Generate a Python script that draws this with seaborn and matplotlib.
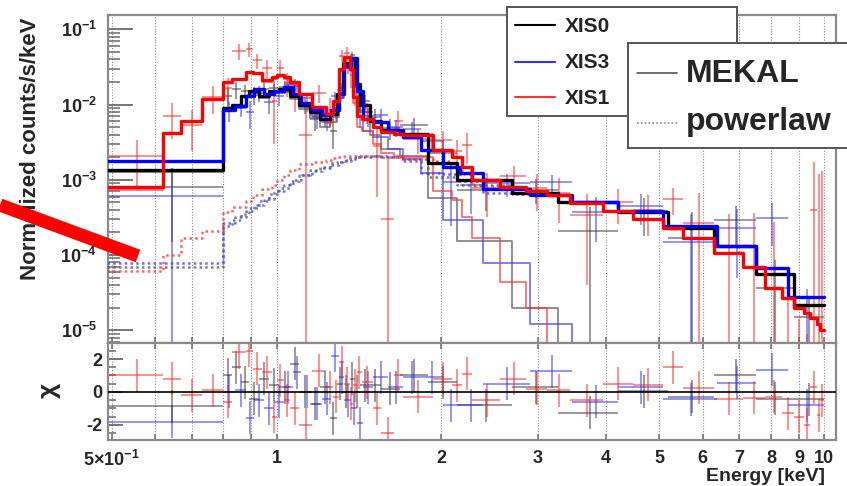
import numpy as np
import pandas as pd
import matplotlib
matplotlib.use("Agg")
import matplotlib.pyplot as plt
from matplotlib.patches import Rectangle
from matplotlib.ticker import FixedLocator, NullFormatter, NullLocator, LogLocator, MultipleLocator
import seaborn as sns

# ---------------------------------------------------------------- data
# XIS0: channel edges [keV], total model, MEKAL and power-law components,
# measured flux, its 1-sigma error, and the residuals (chi)
xis0_edges = [0.49, 0.80, 0.83, 0.86, 0.89, 0.93, 0.97, 1.01, 1.06, 1.10, 1.15, 1.20, 1.25,
              1.29, 1.32, 1.36, 1.39, 1.42, 1.48, 1.55, 1.68, 1.89, 2.14, 2.69, 3.27, 4.20,
              5.18, 6.30, 7.50, 8.80, 10.0]
xis0_total = [1.35e-3, 9.0e-3, 1.0e-2, 1.3e-2, 1.5e-2, 1.3e-2, 1.5e-2, 1.6e-2, 1.3e-2, 1.0e-2,
              8.0e-3, 6.5e-3, 7.5e-3, 1.4e-2, 3.6e-2, 4.1e-2, 1.9e-2, 1.0e-2, 6.0e-3, 4.6e-3,
              4.1e-3, 1.65e-3, 1.0e-3, 6.6e-4, 5.0e-4, 3.7e-4, 2.3e-4, 1.3e-4, 5.6e-5, 2.15e-5]
xis0_mekal = [1.28e-3, 8.7e-3, 9.6e-3, 1.25e-2, 1.44e-2, 1.22e-2, 1.41e-2, 1.49e-2, 1.18e-2, 8.7e-3,
              6.6e-3, 5.0e-3, 5.9e-3, 1.23e-2, 3.4e-2, 3.9e-2, 1.7e-2, 8.0e-3, 4.0e-3, 2.6e-3,
              2.1e-3, 5.7e-4, 1.55e-4, 2.0e-5, 1.5e-6, 2e-7, 1e-7, 1e-7, 1e-7, 1e-7]
xis0_pow = [6.9e-5, 2.4e-4, 2.9e-4, 3.5e-4, 4.2e-4, 5.2e-4, 6.4e-4, 7.8e-4, 9.6e-4, 1.15e-3,
            1.35e-3, 1.5e-3, 1.65e-3, 1.75e-3, 1.85e-3, 1.95e-3, 2.0e-3, 2.05e-3, 2.05e-3, 2.0e-3,
            1.9e-3, 1.1e-3, 8.5e-4, 6.4e-4, 5.0e-4, 3.7e-4, 2.3e-4, 1.3e-4, 5.6e-5, 2.15e-5]
xis0_flux = [8.0e-4, 1.3e-2, 1.6e-2, 1.5e-2, 1.35e-2, 1.6e-2, 1.65e-2, 1.7e-2, 1.85e-2, 1.0e-2,
             6.5e-3, 7.1e-3, 4.5e-3, 1.55e-2, 3.6e-2, 4.5e-2, 1.9e-2, 1.1e-2, 6.8e-3, 4.9e-3,
             5.4e-3, 2.3e-3, 7.3e-4, 7.4e-4, 2.1e-4, 3.8e-4, 1.7e-4, 2.9e-4, 3.6e-5, 1.5e-5]
xis0_err = [6.5e-4, 3.8e-3, 4.0e-3, 3.3e-3, 3.7e-3, 3.7e-3, 3.3e-3, 3.3e-3, 3.2e-3, 2.5e-3,
            2.1e-3, 2.0e-3, 1.9e-3, 2.8e-3, 5.0e-3, 5.0e-3, 3.5e-3, 2.5e-3, 2.0e-3, 1.5e-3,
            1.3e-3, 1.1e-3, 3.4e-4, 2.7e-4, 2.3e-4, 2.0e-4, 2.0e-4, 1.6e-4, 5.0e-5, 1.4e-5]
xis0_chi = [-0.85, 1.05, 1.5, 0.6, -0.4, 0.8, 0.45, 0.3, 1.7, 0.0,
            -0.7, 0.3, -1.6, 0.5, 0.0, 0.8, 0.0, 0.4, 0.4, 0.2,
            1.0, 0.6, -0.8, 0.3, -1.25, 0.05, -0.3, 1.0, -0.4, -0.45]

# XIS3
xis3_edges = [0.49, 0.80, 0.84, 0.88, 0.91, 0.95, 0.99, 1.03, 1.07, 1.11, 1.16, 1.21, 1.26,
              1.30, 1.33, 1.37, 1.40, 1.44, 1.50, 1.60, 1.70, 1.84, 2.01, 2.16, 2.38, 2.90,
              3.47, 4.20, 5.08, 6.37, 7.50, 8.60, 10.0]
xis3_total = [1.8e-3, 8.4e-3, 9.5e-3, 1.3e-2, 1.6e-2, 1.4e-2, 1.5e-2, 1.7e-2, 1.4e-2, 1.05e-2,
              8.4e-3, 7.2e-3, 8.4e-3, 1.4e-2, 3.3e-2, 4.2e-2, 1.5e-2, 6.5e-3, 5.8e-3, 4.6e-3,
              3.7e-3, 2.5e-3, 1.5e-3, 1.25e-3, 7.5e-4, 6.3e-4, 5.0e-4, 3.9e-4, 2.4e-4, 1.3e-4,
              6.7e-5, 2.8e-5]
xis3_mekal = [1.72e-3, 8.1e-3, 9.1e-3, 1.25e-2, 1.55e-2, 1.34e-2, 1.42e-2, 1.6e-2, 1.3e-2, 9.4e-3,
              7.1e-3, 5.8e-3, 6.9e-3, 1.23e-2, 3.1e-2, 4.0e-2, 1.3e-2, 4.5e-3, 3.7e-3, 2.6e-3,
              1.9e-3, 1.25e-3, 2.9e-4, 2.9e-4, 7.8e-5, 1.2e-5, 1e-6, 1e-7, 1e-7, 1e-7,
              1e-7, 1e-7]
xis3_pow = [7.8e-5, 2.7e-4, 3.2e-4, 3.9e-4, 4.6e-4, 5.6e-4, 7.0e-4, 8.5e-4, 1.0e-3, 1.15e-3,
            1.3e-3, 1.45e-3, 1.55e-3, 1.7e-3, 1.8e-3, 1.9e-3, 2.0e-3, 2.0e-3, 2.05e-3, 2.0e-3,
            1.8e-3, 1.25e-3, 1.2e-3, 9.6e-4, 6.7e-4, 6.2e-4, 5.0e-4, 3.9e-4, 2.4e-4, 1.3e-4,
            6.7e-5, 2.8e-5]
xis3_flux = [6.1e-4, 8.4e-3, 9.8e-3, 8.0e-3, 1.43e-2, 1.07e-2, 1.3e-2, 1.8e-2, 1.76e-2, 1.05e-2,
             6.9e-3, 6.4e-3, 1.28e-2, 1.65e-2, 3.05e-2, 3.65e-2, 8.4e-3, 7.1e-3, 7.2e-3, 5.0e-3,
             4.7e-3, 3.3e-3, 9.4e-4, 8.5e-4, 9.0e-4, 9.3e-4, 3.7e-4, 4.5e-4, 1.5e-4, 2.3e-4,
             3.1e-4, 4.0e-6]
xis3_err = [6.6e-4, 2.5e-3, 3.0e-3, 3.2e-3, 3.5e-3, 3.3e-3, 3.3e-3, 3.3e-3, 3.0e-3, 2.5e-3,
            2.2e-3, 2.0e-3, 2.0e-3, 2.8e-3, 5.0e-3, 5.5e-3, 3.5e-3, 2.0e-3, 1.5e-3, 1.3e-3,
            1.1e-3, 9.0e-4, 7.0e-4, 5.0e-4, 3.0e-4, 2.4e-4, 2.2e-4, 2.0e-4, 2.0e-4, 1.8e-4,
            1.8e-4, 3.1e-5]
xis3_chi = [-1.8, 0.0, 0.1, -1.55, -0.5, -1.0, -0.6, 0.3, 1.2, 0.0,
            -0.7, -0.4, 2.2, 0.9, -0.5, -1.0, -1.9, 0.3, 0.9, 0.3,
            0.9, 0.9, -0.8, -0.8, 0.5, 1.25, -0.6, 0.3, -0.45, 0.55,
            1.35, -0.8]

# XIS1
xis1_edges = [0.49, 0.62, 0.67, 0.73, 0.80, 0.83, 0.88, 0.905, 0.94, 0.98, 1.00, 1.03, 1.06,
              1.10, 1.16, 1.23, 1.27, 1.30, 1.33, 1.36, 1.38, 1.40, 1.43, 1.50, 1.55, 1.64,
              1.70, 1.93, 2.09, 2.18, 2.28, 2.56, 2.86, 3.12, 3.43, 3.94, 4.48, 5.08, 5.53,
              6.30, 7.10, 7.80, 8.40, 8.80, 9.20, 9.45, 9.70, 9.85, 10.0]
xis1_total = [8.0e-4, 4.2e-3, 6.0e-3, 1.2e-2, 2.0e-2, 2.2e-2, 2.7e-2, 2.6e-2, 2.1e-2, 2.3e-2,
              2.5e-2, 2.3e-2, 2.0e-2, 1.4e-2, 9.2e-3, 7.5e-3, 1.1e-2, 3.0e-2, 4.3e-2, 3.0e-2,
              1.25e-2, 7.0e-3, 6.5e-3, 5.0e-3, 4.3e-3, 4.1e-3, 3.9e-3, 2.5e-3, 2.0e-3, 1.5e-3,
              1.0e-3, 8.0e-4, 7.0e-4, 6.3e-4, 4.9e-4, 3.9e-4, 3.0e-4, 2.3e-4, 1.7e-4, 1.05e-4,
              6.9e-5, 3.7e-5, 2.7e-5, 2.0e-5, 1.7e-5, 1.45e-5, 1.2e-5, 1.0e-5]
xis1_mekal = [7.4e-4, 4.1e-3, 5.8e-3, 1.18e-2, 1.96e-2, 2.15e-2, 2.64e-2, 2.53e-2, 2.02e-2, 2.2e-2,
              2.39e-2, 2.18e-2, 1.86e-2, 1.24e-2, 7.5e-3, 5.7e-3, 9.1e-3, 2.8e-2, 4.1e-2, 2.8e-2,
              1.05e-2, 5.0e-3, 4.5e-3, 3.0e-3, 2.3e-3, 2.1e-3, 2.0e-3, 7.0e-4, 5.4e-4, 3.2e-4,
              1.7e-4, 4.4e-5, 2.0e-5, 1.5e-6, 1e-7, 1e-7, 1e-7, 1e-7, 1e-7, 1e-7,
              1e-7, 1e-7, 1e-7, 1e-7, 1e-7, 1e-7, 1e-7, 1e-7]
xis1_pow = [6.1e-5, 1.0e-4, 1.7e-4, 2.1e-4, 3.7e-4, 4.3e-4, 5.2e-4, 6.3e-4, 7.5e-4, 8.5e-4,
            1.0e-3, 1.15e-3, 1.35e-3, 1.6e-3, 1.75e-3, 1.85e-3, 1.95e-3, 2.0e-3, 2.05e-3, 2.1e-3,
            2.1e-3, 2.1e-3, 2.1e-3, 2.05e-3, 2.0e-3, 2.0e-3, 1.9e-3, 1.8e-3, 1.46e-3, 1.18e-3,
            8.3e-4, 7.6e-4, 6.8e-4, 6.3e-4, 4.9e-4, 3.9e-4, 3.0e-4, 2.3e-4, 1.7e-4, 1.05e-4,
            6.9e-5, 3.7e-5, 2.7e-5, 2.0e-5, 1.7e-5, 1.45e-5, 1.2e-5, 1.0e-5]
xis1_flux = [2.1e-3, 7.0e-3, 5.4e-3, 1.25e-2, 1.64e-2, 5.1e-2, 5.45e-2, 3.86e-2, 3.06e-2, 1.1e-2,
             3.06e-2, 1.95e-2, 1.4e-2, 4.0e-3, 1.44e-2, 8.55e-3, 9.8e-3, 4.44e-2, 4.8e-2, 2.44e-2,
             1.45e-2, 1.12e-2, 8.0e-3, 2.8e-3, 3.0e-4, 6.1e-3, 3.5e-3, 3.4e-3, 2.4e-3, 2.9e-3,
             7.7e-4, 1.12e-3, 7.8e-4, 6.7e-4, 3.4e-4, 5.1e-4, 4.0e-4, 5.6e-4, 2.7e-4, 1.0e-6,
             1.0e-6, 1.0e-6, 1.0e-6, 1.0e-6, 1.0e-6, 4.0e-4, 1.0e-6, 1.0e-6]
xis1_err = [1.3e-3, 3.5e-3, 3.0e-3, 5.0e-3, 6.0e-3, 1.2e-2, 1.1e-2, 9.0e-3, 8.0e-3, 8.0e-3,
            8.0e-3, 7.0e-3, 6.0e-3, 5.0e-3, 4.0e-3, 3.5e-3, 4.0e-3, 8.0e-3, 1.0e-2, 8.0e-3,
            5.0e-3, 3.5e-3, 2.5e-3, 2.2e-3, 1.6e-3, 2.0e-3, 1.3e-3, 1.1e-3, 1.0e-3, 1.3e-3,
            4.5e-4, 4.0e-4, 4.0e-4, 4.0e-4, 3.0e-4, 2.5e-4, 2.2e-4, 2.2e-4, 4.0e-4, 3.5e-4,
            3.6e-4, 2.7e-4, 3.5e-5, 1.3e-5, 8.0e-6, 1.3e-3, 1.2e-3, 1.3e-3]
xis1_chi = [1.0, 0.8, -0.2, 0.1, -0.6, 2.4, 2.5, 1.4, 1.2, -1.5,
            0.7, -0.5, -1.0, -2.0, 1.3, 0.3, -0.3, 1.8, 0.5, -0.7,
            0.4, 1.2, 0.6, -1.0, -2.5, 1.0, -0.3, 0.8, 0.4, 1.1,
            -0.5, 0.8, 0.2, 0.1, -0.5, 0.5, 0.45, 1.5, 0.25, -0.4,
            -0.35, -0.3, -1.3, -1.5, -2.0, 0.3, -1.4, -0.5]

# energy ticks and labels
energy_ticks = [0.5, 0.6, 0.7, 0.8, 0.9, 1, 2, 3, 4, 5, 6, 7, 8, 9, 10]
energy_labels = [r"$5{\times}10^{-1}$", "", "", "", "", "1", "2", "3", "4", "5",
                 "6", "7", "8", "9", "10"]
flux_ticks = [1e-5, 1e-4, 1e-3, 1e-2, 1e-1]
flux_labels = [r"$10^{-5}$", r"$10^{-4}$", r"$10^{-3}$", r"$10^{-2}$", r"$10^{-1}$"]
chi_ticks = [-2, 0, 2]
chi_labels = ["-2", "0", "2"]

detectors = [
    ("XIS0", "black", "#555555", "#333333", xis0_edges, xis0_total, xis0_mekal, xis0_pow,
     xis0_flux, xis0_err, xis0_chi),
    ("XIS3", "#0000ff", "#3a3aff", "#2a2aff", xis3_edges, xis3_total, xis3_mekal, xis3_pow,
     xis3_flux, xis3_err, xis3_chi),
    ("XIS1", "#ff0000", "#ff3030", "#ff2020", xis1_edges, xis1_total, xis1_mekal, xis1_pow,
     xis1_flux, xis1_err, xis1_chi),
]

# ---------------------------------------------------------------- style
sns.set_style("white")
plt.rcParams["font.family"] = ["Liberation Sans", "DejaVu Sans"]
plt.rcParams["font.weight"] = "bold"
plt.rcParams["mathtext.fontset"] = "custom"
plt.rcParams["mathtext.rm"] = "Liberation Sans:bold"
plt.rcParams["mathtext.bf"] = "Liberation Sans:bold"
plt.rcParams["mathtext.it"] = "Liberation Sans:bold"
plt.rcParams["axes.unicode_minus"] = True

W, H = 847, 486
fig = plt.figure(figsize=(W / 100, H / 100), dpi=100)
fig.patch.set_facecolor("white")

L, R = 108, 836
ax = fig.add_axes([L / W, 1 - 343 / H, (R - L) / W, (343 - 15) / H])
axr = fig.add_axes([L / W, 1 - 440 / H, (R - L) / W, (440 - 343) / H], sharex=ax)

for a in (ax, axr):
    a.set_xscale("log")
ax.set_yscale("log")


def step_model(a, edges, values, **kw):
    frame = pd.DataFrame({"E": edges, "v": list(values) + [values[-1]]})
    sns.lineplot(data=frame, x="E", y="v", ax=a, drawstyle="steps-post",
                 estimator=None, sort=False, legend=False, **kw)


def crosses(a, edges, y, yerr, color, alpha, floor=None, z=2):
    lo = np.asarray(edges[:-1])
    hi = np.asarray(edges[1:])
    mid = 0.5 * (lo + hi)
    y = np.asarray(y, float)
    e = np.asarray(yerr, float)
    bottom = y - e
    if floor is not None:
        bottom = np.maximum(bottom, floor)
    a.hlines(y, lo, hi, colors=color, lw=1.4, alpha=alpha, zorder=z)
    a.vlines(mid, bottom, y + e, colors=color, lw=1.4, alpha=alpha, zorder=z)


# data points
for name, col, thin, dcol, edges, tot, mek, pw, flux, err, chi in detectors:
    crosses(ax, edges, flux, err, dcol, 0.5, floor=1e-8, z=2)
    crosses(axr, edges, chi, [1.0] * len(chi), dcol, 0.5, z=2)

# model components
for name, col, thin, dcol, edges, tot, mek, pw, flux, err, chi in detectors:
    step_model(ax, edges, mek, color=thin, lw=1.3, alpha=0.7, zorder=3)
    step_model(ax, edges, pw, color=thin, lw=1.8, alpha=0.75, zorder=3,
               linestyle=(0, (1, 1.3)))

# total models
for name, col, thin, dcol, edges, tot, mek, pw, flux, err, chi in detectors:
    step_model(ax, edges, tot, color=col, lw=2.4, zorder=4)

axr.axhline(0, color="black", lw=1.2, zorder=3)

# ---------------------------------------------------------------- axes
spine_col = "#8a8a8a"
tick_col = "#6a6a6a"
for a in (ax, axr):
    for s in a.spines.values():
        s.set_color(spine_col)
        s.set_linewidth(1.6)
    a.set_xlim(0.4922, 10.52)
    a.set_xticks(energy_ticks)
    a.xaxis.set_minor_locator(NullLocator())
    a.grid(axis="x", which="major", linestyle=(0, (1, 1.5)), color="#8a8a8a", lw=0.8)
    a.set_xlabel("")
    a.set_ylabel("")

ax.set_ylim(6.78e-6, 0.155)
ax.yaxis.set_major_locator(FixedLocator(flux_ticks))
ax.set_yticklabels(flux_labels)
ax.yaxis.set_minor_locator(LogLocator(base=10, subs=np.arange(2, 10), numticks=30))
ax.yaxis.set_minor_formatter(NullFormatter())
ax.tick_params(axis="y", which="major", direction="in", length=18, width=1.3,
               color=tick_col, pad=8, labelsize=13, left=True, right=False)
ax.tick_params(axis="y", which="minor", direction="in", length=8.5, width=1.1,
               color=tick_col, left=True, right=False)
ax.tick_params(axis="x", which="major", direction="in", length=4, width=1.1,
               color=tick_col, bottom=True, top=False, labelbottom=False)

axr.set_ylim(-2.91, 2.97)
axr.yaxis.set_major_locator(FixedLocator(chi_ticks))
axr.set_yticklabels(chi_labels)
axr.yaxis.set_minor_locator(MultipleLocator(0.5))
axr.tick_params(axis="y", which="major", direction="in", length=11, width=1.3,
                color=tick_col, pad=4, labelsize=13, left=True, right=False)
axr.tick_params(axis="y", which="minor", direction="in", length=5.5, width=1.1,
                color=tick_col, left=True, right=False)
axr.set_xticks(energy_ticks)
axr.set_xticklabels(energy_labels)
axr.tick_params(axis="x", which="major", direction="in", length=4, width=1.1,
                color=tick_col, bottom=True, top=True, pad=7, labelsize=13)
axr.xaxis.set_minor_locator(NullLocator())

# axis titles
fig.text(31 / W, 1 - 149 / H, "Normalized counts/s/keV", rotation=90, ha="center",
         va="center", fontsize=16, fontweight="bold")
fig.text(49 / W, 1 - 390 / H, "χ", rotation=90, ha="center", va="center",
         fontsize=19, fontweight="bold")
fig.text(825 / W, 1 - 476 / H, "Energy [keV]", ha="right", va="center",
         fontsize=14, fontweight="bold")

# ---------------------------------------------------------------- legends and marker line
ov = fig.add_axes([0, 0, 1, 1], zorder=10)
ov.set_xlim(0, W)
ov.set_ylim(H, 0)
ov.axis("off")

ov.add_patch(Rectangle((507, 7), 230, 109, facecolor="white", edgecolor="#555555", lw=1.4))
for yy, c, t in [(25, "black", "XIS0"), (62, "#3030ff", "XIS3"), (97, "#ff3030", "XIS1")]:
    ov.plot([515, 555], [yy, yy], color=c, lw=1.5)
    ov.text(565, yy + 1, t, fontsize=15, fontweight="bold", va="center", ha="left")

ov.add_patch(Rectangle((628, 43), 240, 105, facecolor="white", edgecolor="#555555", lw=1.4))
ov.plot([637, 677], [73, 73], color="#555555", lw=1.2)
ov.text(686, 74, "MEKAL", fontsize=23, fontweight="bold", va="center", ha="left")
ov.plot([637, 677], [123, 123], color="#8a8a8a", lw=1.2, linestyle=(0, (1, 1.3)))
ov.text(686, 122, "powerlaw", fontsize=23, fontweight="bold", va="center", ha="left")

ov.plot([0, 138], [205, 256], color="#ff0000", lw=9.5, solid_capstyle="butt")

fig.savefig("out.png", dpi=100, facecolor="white")
